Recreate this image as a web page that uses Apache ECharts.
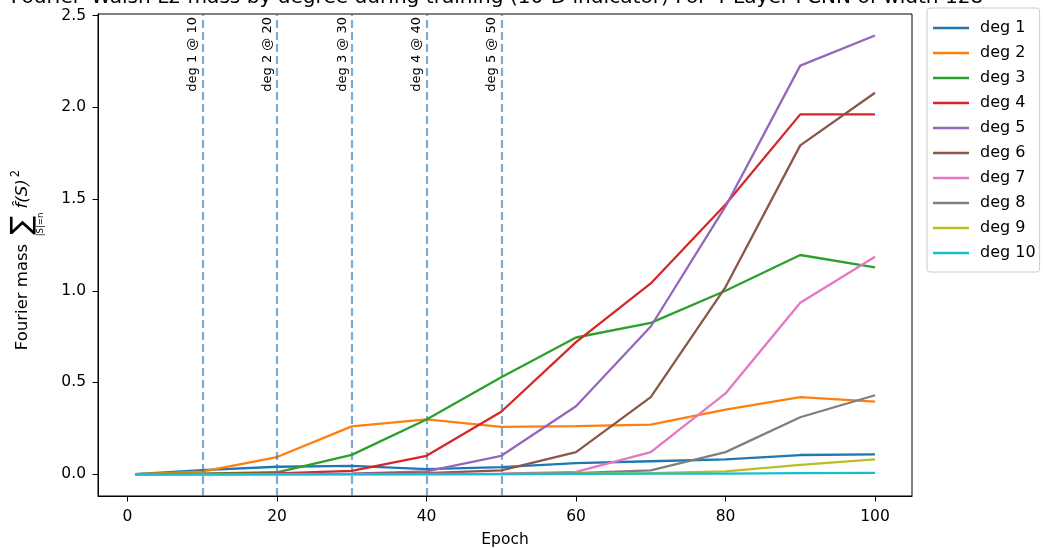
<!DOCTYPE html>
<html>
<head>
<meta charset="utf-8">
<script src="https://cdn.jsdelivr.net/npm/echarts@6/dist/echarts.min.js"></script>
<style>
html,body{margin:0;padding:0;background:#fff;}
#chart{width:1043px;height:548px;}
</style>
</head>
<body>
<div id="chart"></div>
<script>
const epochs = [1, 10, 20, 30, 40, 50, 60, 70, 80, 90, 100];
const deg1  = [0, 0.022, 0.040, 0.045, 0.027, 0.038, 0.060, 0.070, 0.080, 0.104, 0.108];
const deg2  = [0, 0.013, 0.093, 0.260, 0.298, 0.258, 0.262, 0.270, 0.352, 0.420, 0.395];
const deg3  = [0, 0.003, 0.010, 0.105, 0.298, 0.528, 0.745, 0.825, 1.000, 1.195, 1.128];
const deg4  = [0, 0.001, 0.004, 0.018, 0.100, 0.340, 0.720, 1.040, 1.470, 1.962, 1.962];
const deg5  = [0, 0.000, 0.001, 0.003, 0.015, 0.100, 0.370, 0.805, 1.460, 2.228, 2.392];
const deg6  = [0, 0.000, 0.000, 0.001, 0.005, 0.020, 0.120, 0.420, 1.020, 1.793, 2.080];
const deg7  = [0, 0.000, 0.000, 0.000, 0.001, 0.003, 0.012, 0.120, 0.440, 0.935, 1.185];
const deg8  = [0, 0.000, 0.000, 0.000, 0.000, 0.001, 0.005, 0.020, 0.120, 0.310, 0.430];
const deg9  = [0, 0.000, 0.000, 0.000, 0.000, 0.000, 0.002, 0.005, 0.015, 0.050, 0.080];
const deg10 = [0, 0.000, 0.000, 0.000, 0.000, 0.000, 0.001, 0.002, 0.003, 0.005, 0.007];
const seriesNames = ['deg 1','deg 2','deg 3','deg 4','deg 5','deg 6','deg 7','deg 8','deg 9','deg 10'];
const seriesValues = [deg1, deg2, deg3, deg4, deg5, deg6, deg7, deg8, deg9, deg10];
const colors = ['#1f77b4','#ff7f0e','#2ca02c','#d62728','#9467bd','#8c564b','#e377c2','#7f7f7f','#bcbd22','#17becf'];
const markerEpochs = [10, 20, 30, 40, 50];
const markerLabels = ['deg 1 @ 10','deg 2 @ 20','deg 3 @ 30','deg 4 @ 40','deg 5 @ 50'];
const xTicks = [0, 20, 40, 60, 80, 100];
const yTicks = [0, 0.5, 1.0, 1.5, 2.0, 2.5];
const titleText = 'Fourier\u2013Walsh L2 mass by degree during training (10-D indicator) For 4-Layer FCNN of width 128';
const yNameMain = 'Fourier mass';
const yNameSum = '\u2211';
const yNameSub = '|S|=n';
const yNameTerm = 'f\u0302(S)';
const yNameSup = '2';

const FONT = 'DejaVu Sans';
const chart = echarts.init(document.getElementById('chart'), null, {renderer: 'canvas'});

const series = seriesNames.map((name, i) => ({
  name: name,
  type: 'line',
  data: epochs.map((e, j) => [e, seriesValues[i][j]]),
  symbol: 'none',
  lineStyle: {width: 2.3, color: colors[i]},
  itemStyle: {color: colors[i]},
  z: 3 + i,
  animation: false
}));

series.push({
  name: 'markers',
  type: 'line',
  data: [],
  silent: true,
  animation: false,
  markLine: {
    silent: true,
    symbol: ['none', 'none'],
    animation: false,
    lineStyle: {color: 'rgba(31,119,180,0.6)', width: 2.2, type: [8, 4]},
    label: {
      show: true,
      position: 'insideEndTop',
      distance: 3,
      fontFamily: FONT,
      fontSize: 13,
      color: '#000',
      formatter: p => markerLabels[markerEpochs.indexOf(p.value)]
    },
    data: markerEpochs.map(v => ({xAxis: v}))
  }
});

// y axis name: two rich-text lines so that the subscript sits under the sum sign
const wMain = 108, wGap1 = 7, wSum = 22, wGap2 = 5, wTerm = 30, wSup = 9, wEnd = 10;
const wLine = wMain + wGap1 + wSum + wGap2 + wTerm + wSup + wEnd;
const wSub = 25;
const wPad = wMain + wGap1 + (wSum - wSub) / 2;
const wTail = wLine - wPad - wSub;
const yName = '{a|' + yNameMain + '}{g1|}{s|' + yNameSum + '}{g2|}{f|' + yNameTerm + '}{p|' + yNameSup + '}{e|}\n' +
              '{pad|}{sub|' + yNameSub + '}{tail|}';

chart.setOption({
  backgroundColor: '#fff',
  animation: false,
  color: colors,
  title: {
    text: titleText,
    left: 497,
    textAlign: 'center',
    top: -12,
    padding: 0,
    textStyle: {fontFamily: FONT, fontSize: 20.1, fontWeight: 'normal', color: '#000'}
  },
  legend: {
    data: seriesNames,
    orient: 'vertical',
    left: 927,
    top: 8,
    padding: [11, 4, 10, 6],
    icon: 'path://M0,0 L36,0 L36,2.4 L0,2.4 Z',
    itemWidth: 36,
    itemHeight: 18,
    itemGap: 7,
    borderColor: '#cccccc',
    borderWidth: 1,
    borderRadius: 3,
    textStyle: {fontFamily: FONT, fontSize: 16, color: '#000', lineHeight: 18, padding: [0, 0, 0, 6]}
  },
  grid: {
    left: 98, right: 131, top: 14, bottom: 52,
    containLabel: false,
    outerBoundsMode: 'none',
    show: true, borderColor: '#000', borderWidth: 1, backgroundColor: 'transparent'
  },
  xAxis: {
    type: 'value',
    min: -3.95,
    max: 104.95,
    name: 'Epoch',
    nameLocation: 'middle',
    nameGap: 36,
    nameTextStyle: {fontFamily: FONT, fontSize: 15.5, color: '#000'},
    axisLine: {show: true, onZero: false, lineStyle: {color: '#000', width: 1}},
    axisTick: {show: true, length: 5.5, lineStyle: {color: '#000'}, customValues: xTicks},
    axisLabel: {fontFamily: FONT, fontSize: 15.5, color: '#000', margin: 13, customValues: xTicks,
      formatter: v => String(Math.round(v))},
    splitLine: {show: false}
  },
  yAxis: {
    type: 'value',
    min: -0.1195,
    max: 2.5095,
    name: yName,
    nameLocation: 'middle',
    nameRotate: 90,
    nameGap: 53,
    nameTextStyle: {
      fontFamily: FONT, fontSize: 16.5, color: '#000',
      rich: {
        a: {fontFamily: FONT, fontSize: 16.5, color: '#000', width: wMain, lineHeight: 26},
        g1: {width: wGap1, lineHeight: 26},
        s: {fontFamily: FONT, fontSize: 28, color: '#000', width: wSum, lineHeight: 26},
        g2: {width: wGap2, lineHeight: 26},
        f: {fontFamily: FONT, fontSize: 16.5, color: '#000', width: wTerm, lineHeight: 26, fontStyle: 'italic'},
        p: {fontFamily: FONT, fontSize: 11.5, color: '#000', width: wSup, lineHeight: 26, verticalAlign: 'top', padding: [0, 0, 0, 1]},
        e: {width: wEnd, lineHeight: 26},
        pad: {width: wPad, lineHeight: 9},
        sub: {fontFamily: FONT, fontSize: 8.5, color: '#000', width: wSub, lineHeight: 9},
        tail: {width: wTail, lineHeight: 9}
      }
    },
    axisLine: {show: true, onZero: false, lineStyle: {color: '#000', width: 1}},
    axisTick: {show: true, length: 5.5, lineStyle: {color: '#000'}, customValues: yTicks},
    axisLabel: {fontFamily: FONT, fontSize: 15.5, color: '#000', margin: 12, customValues: yTicks,
      formatter: v => v.toFixed(1)},
    splitLine: {show: false}
  },
  series: series
});
</script>
</body>
</html>
